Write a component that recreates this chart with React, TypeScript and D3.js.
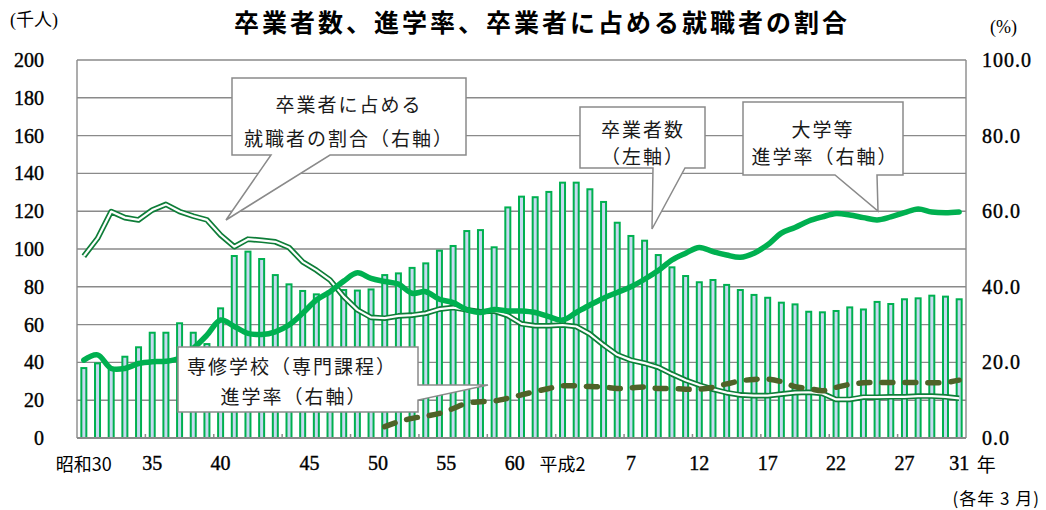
import React, { useEffect, useRef } from 'react';
import * as d3 from 'd3';

// 昭和30年(1955) 〜 平成31年(2019), 各年3月
const years = [
  1955, 1956, 1957, 1958, 1959, 1960, 1961, 1962, 1963, 1964,
  1965, 1966, 1967, 1968, 1969, 1970, 1971, 1972, 1973, 1974,
  1975, 1976, 1977, 1978, 1979, 1980, 1981, 1982, 1983, 1984,
  1985, 1986, 1987, 1988, 1989, 1990, 1991, 1992, 1993, 1994,
  1995, 1996, 1997, 1998, 1999, 2000, 2001, 2002, 2003, 2004,
  2005, 2006, 2007, 2008, 2009, 2010, 2011, 2012, 2013, 2014,
  2015, 2016, 2017, 2018, 2019,
];

// 卒業者数（千人, 左軸）
const graduates = [
  37, 39.5, 37, 43, 48, 55.7, 55.7, 60.7, 55.7, 49.7,
  68.6, 96.3, 98.6, 94.7, 86.2, 81.3, 77.8, 76, 77.4, 78.3,
  78, 78.6, 86.2, 87.1, 90, 92.4, 99.1, 101.6, 109.5, 110,
  100.9, 122, 127.7, 127.4, 130.2, 135.1, 135.1, 131.6, 124.9, 113.9,
  106.9, 104.4, 96.8, 90.3, 85.7, 82.4, 83.6, 81, 78.3, 75.7,
  74.2, 71.6, 70.7, 66.8, 66.5, 67.2, 69.1, 68, 72, 70.9,
  73.4, 73.9, 75.3, 74.8, 73.4,
];

// 大学等進学率（%, 右軸）
const univRate = [
  20.6, 22.0, 18.4, 18.4, 19.7, 20.2, 20.3, 21.1, 23.7, 27.2,
  31.2, 29.5, 27.7, 27.4, 28.1, 29.9, 33.0, 36.5, 38.7, 41.5,
  43.7, 42.2, 41.4, 40.7, 38.3, 38.7, 36.7, 35.8, 34.0, 33.2,
  34.0, 33.6, 33.6, 33.2, 32.1, 31.2, 33.2, 35.2, 37.0, 38.5,
  40.0, 42.0, 44.3, 47.1, 48.9, 50.4, 49.3, 48.4, 47.8, 48.9,
  51.1, 54.2, 55.7, 57.4, 58.5, 59.4, 59.0, 58.3, 57.7, 58.5,
  59.6, 60.6, 59.8, 59.6, 59.8,
];

// 卒業者に占める就職者の割合（%, 右軸）
const jobRate = [
  48.1, 52.8, 59.9, 58.3, 57.7, 60.3, 61.8, 59.9, 58.7, 57.7,
  53.7, 50.6, 52.6, 52.3, 51.9, 50.4, 46.6, 44.4, 41.8, 37.4,
  33.9, 31.9, 31.7, 32.3, 32.5, 33.0, 34.1, 34.5, 33.9, 33.4,
  33.6, 32.4, 30.2, 29.7, 29.7, 29.9, 29.5, 27.5, 24.6, 22.0,
  20.6, 19.8, 18.7, 16.9, 15.3, 14.0, 12.9, 12.0, 11.4, 11.2,
  11.2, 11.6, 12.0, 12.1, 11.8, 10.2, 10.2, 10.8, 10.8, 10.9,
  10.9, 11.1, 11.1, 10.9, 10.5,
];

// 専修学校（専門課程）進学率（%, 右軸）
const vocRate: (number | null)[] = [
  null, null, null, null, null, null, null, null, null, null,
  null, null, null, null, null, null, null, null, null, null,
  null, null, 3.0, 4.3, 5.2, 5.8, 6.5, 7.8, 9.2, 9.6,
  9.8, 10.5, 11.4, 12.3, 13.1, 13.8, 13.8, 13.6, 13.5, 13.1,
  13.3, 13.5, 13.1, 13.1, 12.9, 12.9, 13.4, 14.3, 15.1, 15.5,
  15.6, 14.9, 13.6, 13.1, 12.5, 13.4, 14.2, 14.6, 14.7, 14.7,
  14.7, 14.7, 14.6, 14.7, 15.3,
];

const tickYears = [1955, 1960, 1965, 1970, 1975, 1980, 1985, 1990, 1995, 2000, 2005, 2010, 2015, 2019];
const tickTexts = ['昭和30', '35', '40', '45', '50', '55', '60', '平成2', '7', '12', '17', '22', '27', '31'];
const leftTicks = [0, 20, 40, 60, 80, 100, 120, 140, 160, 180, 200];
const rightTicks = [0, 20, 40, 60, 80, 100];

const SERIF = "'Liberation Serif', 'Noto Sans CJK JP', serif";
const GOTHIC = "'Noto Sans CJK JP', sans-serif";

const App: React.FC = () => {
  const svgRef = useRef<SVGSVGElement>(null);

  useEffect(() => {
    document.body.style.margin = '0';
    if (!svgRef.current) return;
    const svg = d3.select(svgRef.current);
    svg.selectAll('*').remove();

    const left = 77, right = 966, top = 60, bottom = 438;

    const x = d3.scaleBand<number>().domain(years).range([left, right]);
    const bw = x.bandwidth();
    const cx = (yr: number) => (x(yr) as number) + bw / 2;
    const yL = d3.scaleLinear().domain([0, 200]).range([bottom, top]);
    const yR = d3.scaleLinear().domain([0, 100]).range([bottom, top]);

    const grid = '#8a8a8a';

    // gridlines
    svg.append('g')
      .selectAll('line')
      .data(leftTicks.filter(t => t > 0))
      .join('line')
      .attr('x1', left).attr('x2', right)
      .attr('y1', d => yL(d)).attr('y2', d => yL(d))
      .attr('stroke', grid).attr('stroke-width', 1.4);

    // side borders
    svg.append('line').attr('x1', left).attr('x2', left).attr('y1', top).attr('y2', bottom)
      .attr('stroke', grid).attr('stroke-width', 1.4);
    svg.append('line').attr('x1', right).attr('x2', right).attr('y1', top).attr('y2', bottom)
      .attr('stroke', grid).attr('stroke-width', 1.4);

    // bars
    const barW = 5;
    svg.append('g')
      .selectAll('rect')
      .data(graduates)
      .join('rect')
      .attr('x', (d, i) => cx(years[i]) - barW / 2)
      .attr('width', barW)
      .attr('y', d => yL(d))
      .attr('height', d => bottom - yL(d))
      .attr('fill', '#c6d9f0')
      .attr('stroke', '#00b050')
      .attr('stroke-width', 2);

    // bottom axis line + small ticks
    svg.append('line').attr('x1', left).attr('x2', right).attr('y1', bottom).attr('y2', bottom)
      .attr('stroke', grid).attr('stroke-width', 2);
    svg.append('g')
      .selectAll('line')
      .data(years.filter((yr, i) => i > 0 && i % 5 === 0))
      .join('line')
      .attr('x1', d => x(d) as number).attr('x2', d => x(d) as number)
      .attr('y1', bottom).attr('y2', bottom - 4)
      .attr('stroke', grid).attr('stroke-width', 1.5);

    // 就職者の割合: double line
    const jobLine = d3.line<number>()
      .x((d, i) => cx(years[i]))
      .y(d => yR(d));
    svg.append('path').attr('d', jobLine(jobRate))
      .attr('fill', 'none').attr('stroke', '#0e7d38').attr('stroke-width', 5.6)
      .attr('stroke-linejoin', 'round');
    svg.append('path').attr('d', jobLine(jobRate))
      .attr('fill', 'none').attr('stroke', '#ffffff').attr('stroke-width', 2.2)
      .attr('stroke-linejoin', 'round');

    // 大学等進学率
    const univLine = d3.line<number>()
      .x((d, i) => cx(years[i]))
      .y(d => yR(d))
      .curve(d3.curveCatmullRom);
    svg.append('path').attr('d', univLine(univRate))
      .attr('fill', 'none').attr('stroke', '#00b050').attr('stroke-width', 5.5)
      .attr('stroke-linejoin', 'round').attr('stroke-linecap', 'round');

    // 専修学校進学率
    const vocLine = d3.line<number | null>()
      .defined(d => d != null)
      .x((d, i) => cx(years[i]))
      .y(d => yR(d as number))
      .curve(d3.curveCatmullRom);
    svg.append('path').attr('d', vocLine(vocRate))
      .attr('fill', 'none').attr('stroke', '#4f6228').attr('stroke-width', 5.5)
      .attr('stroke-dasharray', '11 12').attr('stroke-linecap', 'round');

    // left axis labels
    svg.append('g')
      .selectAll('text')
      .data(leftTicks)
      .join('text')
      .attr('x', 44).attr('y', d => yL(d))
      .attr('text-anchor', 'end').attr('dominant-baseline', 'central')
      .style('font-family', SERIF).style('font-size', '20px').attr('fill', '#000')
      .attr('stroke', '#000').attr('stroke-width', 0.4)
      .text(d => d);

    // right axis labels
    svg.append('g')
      .selectAll('text')
      .data(rightTicks)
      .join('text')
      .attr('x', 982).attr('y', d => yR(d))
      .attr('text-anchor', 'start').attr('dominant-baseline', 'central')
      .style('font-family', SERIF).style('font-size', '20px').style('letter-spacing', '1px')
      .attr('fill', '#000').attr('stroke', '#000').attr('stroke-width', 0.4)
      .text(d => d3.format('.1f')(d));

    // x labels (昭和45〜60 are set a little to the right in the original)
    const shifted = new Set(['45', '50', '55', '60']);
    const isEra = (t: string) => /[昭平]/.test(t);
    svg.append('g')
      .selectAll('text')
      .data(tickYears)
      .join('text')
      .attr('x', (d, i) => cx(d) + (shifted.has(tickTexts[i]) ? bw * 1.5 : 0))
      .attr('y', 463)
      .attr('text-anchor', 'middle')
      .attr('dominant-baseline', 'central')
      .style('font-family', (d, i) => (isEra(tickTexts[i]) ? GOTHIC : SERIF))
      .style('font-size', (d, i) => (isEra(tickTexts[i]) ? '18px' : '20px'))
      .attr('fill', '#000')
      .attr('stroke', (d, i) => (isEra(tickTexts[i]) ? 'none' : '#000'))
      .attr('stroke-width', 0.4)
      .text((d, i) => tickTexts[i]);

    svg.append('text').attr('x', cx(years[years.length - 1]) + 27).attr('y', 463)
      .attr('text-anchor', 'middle').attr('dominant-baseline', 'central')
      .style('font-family', GOTHIC).style('font-size', '19px')
      .text('年');

    svg.append('text').attr('x', 1040).attr('y', 497)
      .attr('text-anchor', 'end').attr('dominant-baseline', 'central')
      .style('font-family', GOTHIC).style('font-size', '17px').style('letter-spacing', '1px')
      .text('(各年 3 月)');

    // unit labels
    svg.append('text').attr('x', 10).attr('y', 20)
      .attr('dominant-baseline', 'central')
      .style('font-family', SERIF).style('font-size', '18px')
      .text('(千人)');
    svg.append('text').attr('x', 990).attr('y', 27)
      .attr('dominant-baseline', 'central')
      .style('font-family', SERIF).style('font-size', '18px')
      .text('(%)');

    // title
    svg.append('text').attr('x', 542).attr('y', 21)
      .attr('text-anchor', 'middle').attr('dominant-baseline', 'central')
      .style('font-family', GOTHIC).style('font-size', '25px').style('font-weight', '700')
      .style('letter-spacing', '3px')
      .text('卒業者数、進学率、卒業者に占める就職者の割合');

    // callouts
    type Callout = {
      box: [number, number, number, number];
      ptr: { side: 'bottom' | 'right'; a: number; b: number; tip: [number, number] };
      lines: [string, number, number][];
    };
    const callouts: Callout[] = [
      {
        box: [232, 78, 466, 155],
        ptr: { side: 'bottom', a: 271, b: 330, tip: [226, 220] },
        lines: [['卒業者に占める', 348, 103], ['就職者の割合（右軸）', 348, 137]],
      },
      {
        box: [580, 107, 705, 168],
        ptr: { side: 'bottom', a: 653, b: 685, tip: [652, 229] },
        lines: [['卒業者数', 642, 128], ['（左軸）', 642, 155]],
      },
      {
        box: [743, 102, 903, 175],
        ptr: { side: 'bottom', a: 835, b: 877, tip: [878, 211] },
        lines: [['大学等', 822, 128], ['進学率（右軸）', 824, 155]],
      },
      {
        box: [178, 347, 418, 412],
        ptr: { side: 'right', a: 385, b: 400, tip: [488, 385] },
        lines: [['専修学校（専門課程）', 291, 365], ['進学率（右軸）', 293, 395]],
      },
    ];

    const cg = svg.append('g');
    callouts.forEach(c => {
      const [x0, y0, x1, y1] = c.box;
      const p = d3.path();
      p.moveTo(x0, y0);
      p.lineTo(x1, y0);
      if (c.ptr.side === 'right') {
        p.lineTo(x1, c.ptr.a);
        p.lineTo(c.ptr.tip[0], c.ptr.tip[1]);
        p.lineTo(x1, c.ptr.b);
        p.lineTo(x1, y1);
        p.lineTo(x0, y1);
      } else {
        p.lineTo(x1, y1);
        p.lineTo(c.ptr.b, y1);
        p.lineTo(c.ptr.tip[0], c.ptr.tip[1]);
        p.lineTo(c.ptr.a, y1);
        p.lineTo(x0, y1);
      }
      p.closePath();
      cg.append('path').attr('d', p.toString())
        .attr('fill', '#fff').attr('stroke', '#8a8a8a').attr('stroke-width', 1.5)
        .attr('stroke-linejoin', 'miter');
      c.lines.forEach(([t, tx, ty]) => {
        cg.append('text').attr('x', tx + 1).attr('y', ty)
          .attr('text-anchor', 'middle').attr('dominant-baseline', 'central')
          .style('font-family', GOTHIC).style('font-size', '19px')
          .style('letter-spacing', '2px').attr('fill', '#1a1a1a')
          .text(t);
      });
    });
  }, []);

  return <svg ref={svgRef} width={1046} height={510} style={{ display: 'block', background: '#fff' }} />;
};

export default App;
